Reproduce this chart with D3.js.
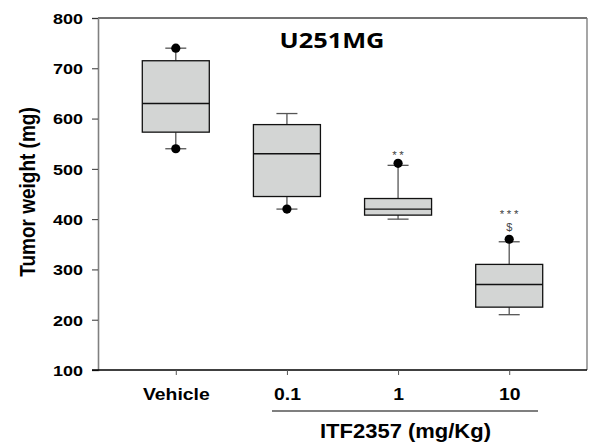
<!DOCTYPE html>
<html><head><meta charset="utf-8">
<script src="https://cdn.jsdelivr.net/npm/d3@7"></script>
<style>body{margin:0;background:#fff}svg{display:block}</style>
</head><body>
<script>
const categories = ["Vehicle", "0.1", "1", "10"];
const q1 = [573, 445, 408, 225];
const median = [630, 530, 420, 270];
const q3 = [715, 588, 441, 310];
const whiskerLow = [540, 420, 400, 210];
const whiskerHigh = [740, 610, 507, 355];
const outliers = [[740, 540], [420], [511], [360]];
const annotations = [[], [], ["**"], ["***", "$"]];
const yTicks = [100, 200, 300, 400, 500, 600, 700, 800];

(function () {
const W = 590, H = 446;
const mL = 98, mR = 587, mT = 18, mB = 370;
const AR = "Liberation Sans, Arial, sans-serif";
const svg = d3.select("body").append("svg").attr("width", W).attr("height", H);

const y = d3.scaleLinear().domain([100, 800]).range([mB, mT]);
const x = d3.scalePoint().domain(categories).range([mL, mR]).padding(0.7);

// frame top/right
svg.append("line").attr("x1", mL).attr("x2", mR).attr("y1", mT).attr("y2", mT).attr("stroke", "#444").attr("stroke-width", 1.3);
svg.append("line").attr("x1", mR).attr("x2", mR).attr("y1", mT).attr("y2", mB).attr("stroke", "#777").attr("stroke-width", 1.3);

// y axis
const yAx = svg.append("g").attr("transform", `translate(${mL},0)`)
  .call(d3.axisLeft(y).tickValues(yTicks).tickSize(6).tickPadding(8));
yAx.select(".domain").attr("stroke", "#808080").attr("stroke-width", 1.6);
yAx.selectAll(".tick line").attr("stroke", "#333");
yAx.selectAll("text").attr("font-family", AR).attr("font-weight", "bold").attr("font-size", 15).attr("fill", "#000")
  .attr("x", -15 / 1.2).attr("dy", "0.36em").attr("transform", "scale(1.2,1)");

// x axis
const xAx = svg.append("g").attr("transform", `translate(0,${mB})`)
  .call(d3.axisBottom(x).tickSize(5).tickSizeOuter(0));
xAx.select(".domain").attr("stroke", "#000").attr("stroke-width", 1.3).attr("d", `M${mL-6},0H${mR}`);
xAx.selectAll(".tick line").attr("stroke", "#555");
xAx.selectAll("text").attr("font-family", AR).attr("font-weight", "bold").attr("font-size", 17).attr("fill", "#000")
  .attr("y", 30).attr("dy", 0).attr("transform", "scale(1.14,1)");

// boxes
const bw = 67, cw = 21;
const g = svg.append("g");
categories.forEach((c, i) => {
  const cx = x(c);
  g.append("line").attr("x1", cx).attr("x2", cx).attr("y1", y(whiskerHigh[i])).attr("y2", y(q3[i])).attr("stroke", "#555").attr("stroke-width", 1.3);
  g.append("line").attr("x1", cx).attr("x2", cx).attr("y1", y(q1[i])).attr("y2", y(whiskerLow[i])).attr("stroke", "#555").attr("stroke-width", 1.3);
  [whiskerHigh[i], whiskerLow[i]].forEach(v => {
    g.append("line").attr("x1", cx - cw/2).attr("x2", cx + cw/2).attr("y1", y(v)).attr("y2", y(v)).attr("stroke", "#555").attr("stroke-width", 1.3);
  });
  g.append("rect").attr("x", cx - bw/2).attr("y", y(q3[i])).attr("width", bw).attr("height", y(q1[i]) - y(q3[i]))
    .attr("fill", "#d3d5d4").attr("stroke", "#111").attr("stroke-width", 1.3);
  g.append("line").attr("x1", cx - bw/2).attr("x2", cx + bw/2).attr("y1", y(median[i])).attr("y2", y(median[i])).attr("stroke", "#111").attr("stroke-width", 1.3);
  outliers[i].forEach(v => {
    g.append("circle").attr("cx", cx).attr("cy", y(v)).attr("r", 4.6).attr("fill", "#000");
  });
  if (annotations[i].length) {
    const top0 = d3.max(outliers[i].concat([whiskerHigh[i]]));
    const t = g.append("text").attr("text-anchor", "middle").attr("font-family", AR).attr("fill", "#444");
    let base = null;
    annotations[i].slice().reverse().forEach((s) => {
      const isStar = s !== "$";
      if (base === null) base = y(top0) - (isStar ? 4 : 8.5);
      else base -= 12.5;
      t.append("tspan").attr("x", isStar ? cx + 1.2 : cx).attr("y", base)
        .attr("font-size", isStar ? 11.5 : 11).attr("letter-spacing", isStar ? 2.6 : 0).text(s);
    });
  }
});

// title
svg.append("text").attr("x", 332).attr("y", 48).attr("text-anchor", "middle")
  .attr("font-family", "Open Sans, Noto Sans, sans-serif").attr("font-weight", "bold").attr("font-size", 21.5)
  .attr("textLength", 105).attr("lengthAdjust", "spacingAndGlyphs").attr("fill", "#000").text("U251MG");

// y label
svg.append("text").attr("transform", `translate(35,${(mT+mB)/2 - 2}) rotate(-90) scale(1,1.14)`).attr("text-anchor", "middle")
  .attr("font-family", AR).attr("font-weight", "bold").attr("font-size", 19).attr("fill", "#000").text("Tumor weight (mg)");

// group line + x label
svg.append("line").attr("x1", 272).attr("x2", 538).attr("y1", 411).attr("y2", 411).attr("stroke", "#000").attr("stroke-width", 1.2);
svg.append("text").attr("x", 405.5).attr("y", 438).attr("text-anchor", "middle")
  .attr("font-family", AR).attr("font-weight", "bold").attr("font-size", 20.5)
  .attr("textLength", 171).attr("lengthAdjust", "spacingAndGlyphs").attr("fill", "#000").text("ITF2357 (mg/Kg)");
})();
</script>
</body></html>
